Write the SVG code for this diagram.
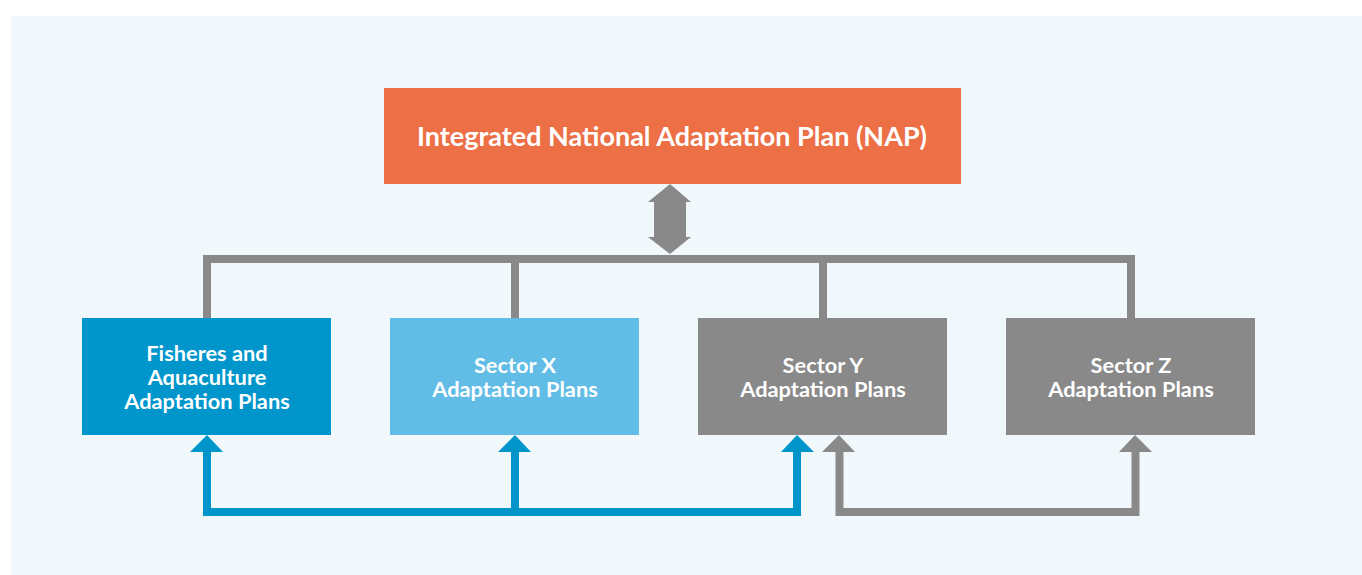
<svg xmlns="http://www.w3.org/2000/svg" width="1362" height="575" viewBox="0 0 1362 575">
<style>
text{font-family:Lato,"Open Sans","Liberation Sans",sans-serif;font-weight:bold;fill:#fff;text-anchor:middle}
.t{font-size:21.8px}
.g{fill:none;stroke:#898989;stroke-width:8}
.b{fill:none;stroke:#0096cc;stroke-width:8}
</style>
<rect x="0" y="0" width="1362" height="575" fill="#fff"/>
<rect x="11" y="16" width="1351" height="559" fill="#f0f8fc"/>
<g id="connectors">
<polygon points="670,184 691,202 686,202 686,237 691,237 670,254 648,237 654,237 654,202 648,202" fill="#898989"/>
<path class="g" d="M207,318 V259 H1131 V318 M515,259 V318 M823,259 V318"/>
<path class="b" d="M207,452 V512 H797 V452 M515,512 V452"/>
<path class="g" d="M839.5,452 V512 H1135.5 V452"/>
<polygon points="207,435 223,452 190,452" fill="#0096cc"/>
<polygon points="515,435 531,452 498,452" fill="#0096cc"/>
<polygon points="797,435 814,452 781,452" fill="#0096cc"/>
<polygon points="839,435 855,452 822,452" fill="#898989"/>
<polygon points="1135,435 1152,452 1119,452" fill="#898989"/>
</g>
<g id="nap">
<rect x="384" y="88" width="577" height="96" fill="#ec6f46"/>
<text x="672" y="146" font-size="27">Integrated National Adaptation Plan (NAP)</text>
</g>
<g id="fisheries">
<rect x="82" y="318" width="249" height="117" fill="#0096cc"/>
<text class="t" x="207" y="361">Fisheres and</text>
<text class="t" x="207" y="385">Aquaculture</text>
<text class="t" x="207" y="409">Adaptation Plans</text>
</g>
<g id="sectorx">
<rect x="390" y="318" width="249" height="117" fill="#62bde6"/>
<text class="t" x="515" y="373">Sector X</text>
<text class="t" x="515" y="397">Adaptation Plans</text>
</g>
<g id="sectory">
<rect x="698" y="318" width="249" height="117" fill="#898989"/>
<text class="t" x="823" y="373">Sector Y</text>
<text class="t" x="823" y="397">Adaptation Plans</text>
</g>
<g id="sectorz">
<rect x="1006" y="318" width="249" height="117" fill="#898989"/>
<text class="t" x="1131" y="373">Sector Z</text>
<text class="t" x="1131" y="397">Adaptation Plans</text>
</g>
</svg>
